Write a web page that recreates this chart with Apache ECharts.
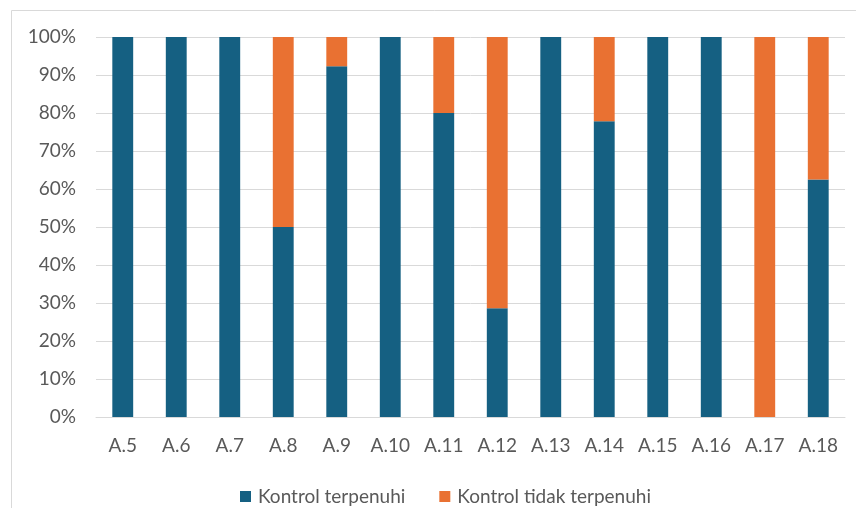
<!DOCTYPE html>
<html><head><meta charset="utf-8">
<script src="https://cdn.jsdelivr.net/npm/echarts@6/dist/echarts.min.js"></script>
<style>html,body{margin:0;padding:0;background:#fff}#c{width:856px;height:508px}</style>
</head><body><div id="c"></div>
<script>
const categories = ['A.5','A.6','A.7','A.8','A.9','A.10','A.11','A.12','A.13','A.14','A.15','A.16','A.17','A.18'];
const terpenuhi = [100,100,100,50,92.3,100,80,28.6,100,77.8,100,100,0,62.5];
const tidakTerpenuhi = [0,0,0,50,7.7,0,20,71.4,0,22.2,0,0,100,37.5];
const seriesNames = ['Kontrol terpenuhi','Kontrol tidak terpenuhi'];

const chart = echarts.init(document.getElementById('c'), null, {renderer:'canvas'});
const font = 'Lato, "Open Sans", sans-serif';
chart.setOption({
  animation:false,
  graphic:[{type:'rect',shape:{x:11.5,y:10.5,width:860,height:520},style:{fill:'none',stroke:'#d9d9d9',lineWidth:1}}],
  grid:{left:96,right:11,top:37,bottom:91,containLabel:false},
  legend:{top:482,left:235,itemWidth:11,itemHeight:11,itemGap:34,icon:'rect',
    textStyle:{color:'#595959',fontSize:19,fontFamily:font,padding:[0,0,0,2]},data:seriesNames},
  xAxis:{type:'category',data:categories,
    axisLine:{show:true,lineStyle:{color:'#d9d9d9'}},axisTick:{show:false},
    axisLabel:{color:'#595959',fontSize:19,fontFamily:font,margin:19}},
  yAxis:{type:'value',min:0,max:100,interval:10,
    axisLabel:{formatter:'{value}%',color:'#595959',fontSize:19,fontFamily:font,margin:20},
    splitLine:{lineStyle:{color:'#d9d9d9',width:1}},axisLine:{show:false},axisTick:{show:false}},
  series:[
    {name:seriesNames[0],type:'bar',stack:'s',data:terpenuhi,barWidth:'39%',itemStyle:{color:'#156082'}},
    {name:seriesNames[1],type:'bar',stack:'s',data:tidakTerpenuhi,barWidth:'39%',itemStyle:{color:'#E97132'}}
  ]
});
</script></body></html>
